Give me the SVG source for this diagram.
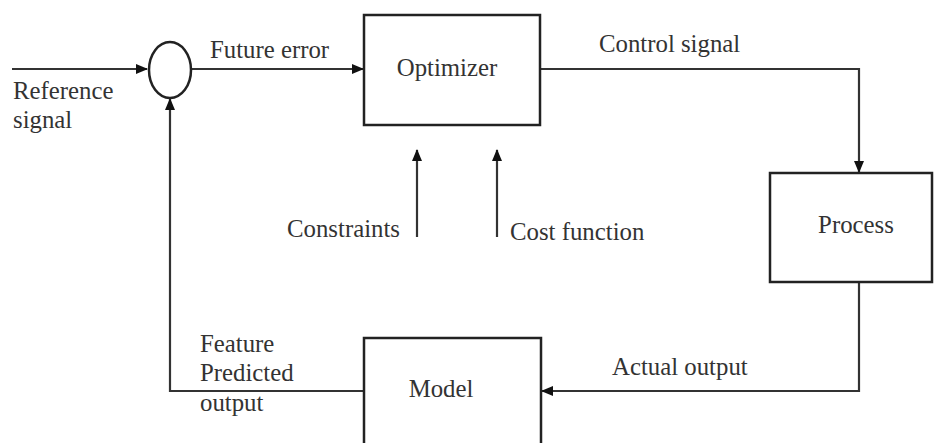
<svg xmlns="http://www.w3.org/2000/svg" width="936" height="443" viewBox="0 0 936 443">
<style>
.box{fill:#fff;stroke:#222;stroke-width:2.5}
.ln{fill:none;stroke:#333;stroke-width:2.2}
.t{font-family:"Liberation Serif","Times New Roman",serif;font-size:24.8px;fill:#333}
.c{text-anchor:middle}
</style>
<defs>
<marker id="ah" markerWidth="12" markerHeight="10" refX="11" refY="5" orient="auto" markerUnits="userSpaceOnUse">
<path d="M0,0 L12,5 L0,10 Z" fill="#111"/>
</marker>
</defs>
<rect width="936" height="443" fill="#fff"/>
<g id="connectors">
<line class="ln" x1="12" y1="69" x2="147" y2="69" marker-end="url(#ah)"/>
<line class="ln" x1="192" y1="69" x2="363" y2="69" marker-end="url(#ah)"/>
<polyline class="ln" points="540,69 859,69 859,172" marker-end="url(#ah)"/>
<polyline class="ln" points="859,282 859,391 542,391" marker-end="url(#ah)"/>
<polyline class="ln" points="364,391 170,391 170,99" marker-end="url(#ah)"/>
<line class="ln" x1="417" y1="237" x2="417" y2="150" marker-end="url(#ah)"/>
<line class="ln" x1="497" y1="237" x2="497" y2="150" marker-end="url(#ah)"/>
</g>
<g id="sum">
<ellipse cx="170" cy="70" rx="21" ry="28" fill="none" stroke="#222" stroke-width="2.5"/>
</g>
<g id="optimizer">
<rect class="box" x="364" y="15" width="176" height="110"/>
<text class="t c" x="447" y="76">Optimizer</text>
</g>
<g id="process">
<rect class="box" x="770" y="173" width="162" height="109"/>
<text class="t c" x="856" y="233">Process</text>
</g>
<g id="model">
<rect class="box" x="364" y="338" width="177" height="120"/>
<text class="t c" x="441" y="397">Model</text>
</g>
<g id="labels">
<text class="t" x="13" y="99">Reference</text>
<text class="t" x="13" y="128">signal</text>
<text class="t" x="210" y="58">Future error</text>
<text class="t" x="599" y="52">Control signal</text>
<text class="t" x="287" y="237">Constraints</text>
<text class="t" x="510" y="240">Cost function</text>
<text class="t" x="612" y="375">Actual output</text>
<text class="t" x="200" y="352">Feature</text>
<text class="t" x="200" y="381">Predicted</text>
<text class="t" x="200" y="411">output</text>
</g>
</svg>
